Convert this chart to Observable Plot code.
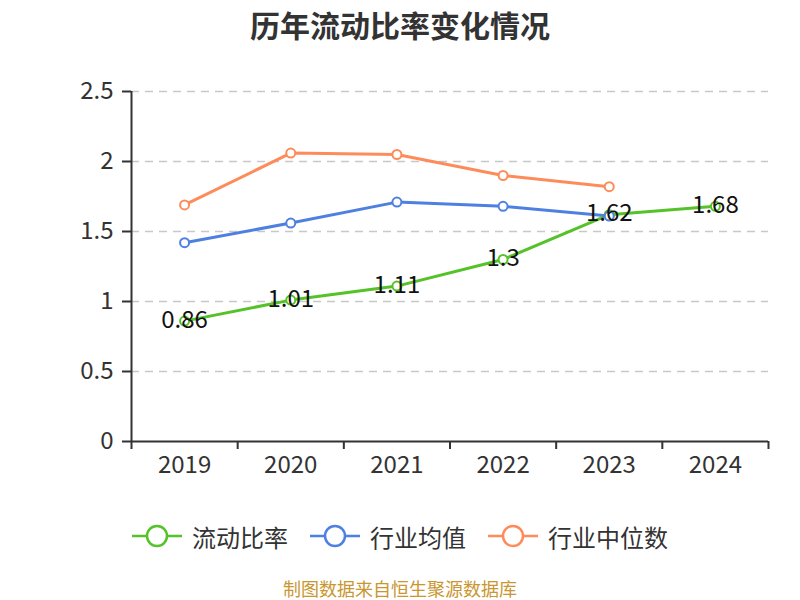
<!DOCTYPE html>
<html><head><meta charset="utf-8">
<script src="https://cdn.jsdelivr.net/npm/d3@7"></script>
<script src="https://cdn.jsdelivr.net/npm/@observablehq/plot@0.6"></script>
<style>
body{margin:0;width:800px;height:600px;background:#fff;font-family:"Noto Sans CJK SC","Noto Sans",sans-serif;overflow:hidden;}
#title{height:50px;line-height:48px;text-align:center;font-size:30px;font-weight:bold;color:#333;}
#chart{height:445px;}
#chart svg{display:block;}
#legend{margin-top:26px;height:30px;display:flex;justify-content:center;align-items:center;font-size:24px;color:#333;}
.item{display:flex;align-items:center;margin:0 11px;}
.item svg{margin-right:10px;}
#caption{margin-top:26px;height:22px;line-height:22px;text-align:center;font-size:18px;color:#c9962f;}
</style></head><body>
<div id="title">历年流动比率变化情况</div>
<div id="chart"></div>
<div id="legend"></div>
<div id="caption">制图数据来自恒生聚源数据库</div>
<script>
const years = ["2019","2020","2021","2022","2023","2024"];
const currentRatio = [0.86, 1.01, 1.11, 1.3, 1.62, 1.68];
const industryAvg = [1.42, 1.56, 1.71, 1.68, 1.61];
const industryMedian = [1.69, 2.06, 2.05, 1.90, 1.82];
const yTicks = [0, 0.5, 1, 1.5, 2, 2.5];
const seriesNames = ["流动比率", "行业均值", "行业中位数"];
const colors = ["#56c22a", "#4e80e2", "#fd8c5a"];

function seriesMarks(data, color) {
  return [
    Plot.line(data, {x: (d, i) => i, y: d => d, stroke: color, strokeWidth: 3}),
    Plot.dot(data, {x: (d, i) => i, y: d => d, r: 4.5, fill: "white", stroke: color, strokeWidth: 2})
  ];
}

const chart = Plot.plot({
  width: 800,
  height: 445,
  marginTop: 41,
  marginBottom: 54,
  marginLeft: 131,
  marginRight: 32,
  style: {fontFamily: '"Noto Sans CJK SC","Noto Sans",sans-serif', color: "#333", background: "white", overflow: "visible"},
  x: {type: "linear", domain: [-0.5, years.length - 0.5]},
  y: {domain: [0, 2.5]},
  marks: [
    Plot.gridY(yTicks.filter(d => d > 0), {stroke: "#c8c8c8", strokeOpacity: 1, strokeWidth: 1.5, strokeDasharray: "8,6"}),
    Plot.axisY(yTicks, {tickSize: 9, tickPadding: 9, fontSize: 24, tickFormat: d => String(d), label: null, strokeWidth: 2}),
    Plot.axisX(d3.range(-0.5, years.length, 1), {tickSize: 8, tickFormat: () => "", label: null, strokeWidth: 2}),
    Plot.axisX(d3.range(years.length), {tickSize: 0, tickPadding: 14, fontSize: 24, tickFormat: i => years[i], label: null}),
    Plot.ruleX([-0.5], {stroke: "#333", strokeWidth: 2}),
    Plot.ruleY([0], {stroke: "#333", strokeWidth: 2}),
    ...seriesMarks(currentRatio, colors[0]),
    ...seriesMarks(industryAvg, colors[1]),
    ...seriesMarks(industryMedian, colors[2]),
    Plot.text(currentRatio, {x: (d, i) => i, y: d => d, text: d => String(d), fontSize: 24, fill: "#111", dy: -1})
  ]
});
document.getElementById("chart").appendChild(chart);

const legend = document.getElementById("legend");
seriesNames.forEach((name, i) => {
  const item = document.createElement("div");
  item.className = "item";
  item.innerHTML = `<svg width="50" height="24"><line x1="0" y1="12" x2="50" y2="12" stroke="${colors[i]}" stroke-width="2.5"/><circle cx="25" cy="12" r="10" fill="white" stroke="${colors[i]}" stroke-width="2.5"/></svg><span>${name}</span>`;
  legend.appendChild(item);
});
</script>
</body></html>
